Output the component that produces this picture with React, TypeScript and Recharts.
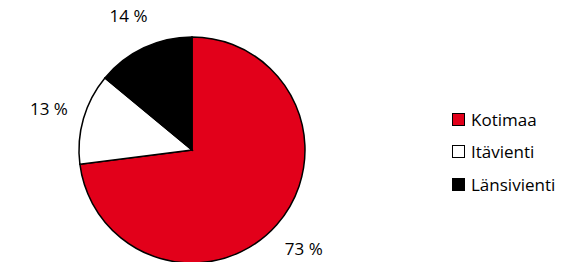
import { PieChart, Pie, Cell, Legend } from "recharts";

const categories = ["Kotimaa", "Itävienti", "Länsivienti"];
const shares = [73, 13, 14];
const colors = ["#e2001a", "#ffffff", "#000000"];

const data = categories.map((name, i) => ({ name, value: shares[i] }));

const RAD = Math.PI / 180;
const FONT = "'Open Sans', sans-serif";

function renderLabel(props: any) {
  const { cx, cy, midAngle, outerRadius, value } = props;
  const r = outerRadius + 36;
  const x = cx + r * Math.cos(-midAngle * RAD);
  const y = cy + r * Math.sin(-midAngle * RAD);
  return (
    <text
      x={x}
      y={y}
      textAnchor="middle"
      dominantBaseline="central"
      fontSize={17}
      fontFamily={FONT}
      fill="#000"
    >
      {`${value} %`}
    </text>
  );
}

function LegendBox() {
  return (
    <div style={{ fontFamily: FONT, fontSize: 17, color: "#000" }}>
      {data.map((d, i) => (
        <div key={d.name} style={{ display: "flex", alignItems: "center", height: 32.5 }}>
          <span
            style={{
              display: "inline-block",
              width: 11,
              height: 11,
              background: colors[i],
              border: "1.5px solid #000",
              marginRight: 6,
            }}
          />
          <span>{d.name}</span>
        </div>
      ))}
    </div>
  );
}

export default function App() {
  return (
    <div style={{ position: "absolute", left: 0, top: 0, width: 567, height: 262, background: "#fff" }}>
      <PieChart width={567} height={262} margin={{ top: 0, right: 0, bottom: 0, left: 0 }}>
        <Pie
          data={data}
          dataKey="value"
          cx={192}
          cy={150}
          outerRadius={113}
          startAngle={90}
          endAngle={-270}
          stroke="#000"
          strokeWidth={1.5}
          label={renderLabel}
          labelLine={false}
          isAnimationActive={false}
        >
          {data.map((d, i) => (
            <Cell key={d.name} fill={colors[i]} />
          ))}
        </Pie>
        <Legend
          layout="vertical"
          align="right"
          verticalAlign="top"
          wrapperStyle={{ left: 452, top: 103, width: 115 }}
          content={() => <LegendBox />}
        />
      </PieChart>
    </div>
  );
}
